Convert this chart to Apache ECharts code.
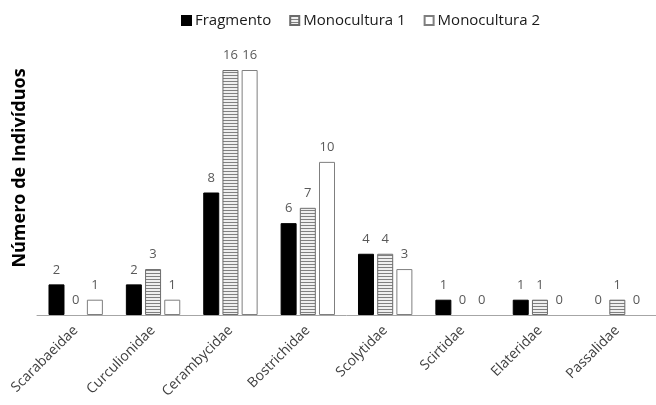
<!DOCTYPE html>
<html>
<head>
<meta charset="utf-8">
<script src="https://cdn.jsdelivr.net/npm/echarts@6/dist/echarts.min.js"></script>
<style>
  html, body { margin: 0; padding: 0; background: #fff; }
  #chart { width: 656px; height: 405px; }
</style>
</head>
<body>
<div id="chart"></div>
<script>
// Beetle families and individual counts per habitat
const families = ['Scarabaeidae', 'Curculionidae', 'Cerambycidae', 'Bostrichidae', 'Scolytidae', 'Scirtidae', 'Elateridae', 'Passalidae'];
const fragmento = [2, 2, 8, 6, 4, 1, 1, 0];
const monocultura1 = [0, 3, 16, 7, 4, 0, 1, 1];
const monocultura2 = [1, 1, 16, 10, 3, 0, 0, 0];
const seriesNames = ['Fragmento', 'Monocultura 1', 'Monocultura 2'];

// Horizontal-stripe fill for the second series
function stripes() {
  const c = document.createElement('canvas');
  c.width = 4; c.height = 3;
  const g = c.getContext('2d');
  g.fillStyle = '#efefef'; g.fillRect(0, 0, 4, 3);
  g.fillStyle = '#808080'; g.fillRect(0, 0, 4, 1);
  return c;
}

// Zero counts keep their label but draw no outline
function withoutZeroOutline(values) {
  return values.map(v => v === 0 ? { value: v, itemStyle: { borderWidth: 0 } } : v);
}

const font = '"Open Sans", "Liberation Sans", sans-serif';
const labelStyle = {
  show: true, position: 'top', distance: 8,
  color: '#595959', fontSize: 13, fontFamily: font
};

const chart = echarts.init(document.getElementById('chart'), null, { renderer: 'canvas' });
chart.setOption({
  animation: false,
  backgroundColor: '#fff',
  legend: {
    top: 8, left: 176,
    icon: 'rect',
    itemWidth: 9, itemHeight: 9, itemGap: 18,
    textStyle: { fontFamily: font, fontSize: 15, color: '#1a1a1a', padding: [0, 0, 0, -1] },
    data: seriesNames
  },
  grid: { left: 37, right: 0, top: 70, bottom: 90, containLabel: false },
  xAxis: {
    type: 'category', data: families,
    axisLine: { lineStyle: { color: '#a6a6a6', width: 1 } },
    axisTick: { show: false },
    axisLabel: { rotate: 45, interval: 0, margin: 13, color: '#404040', fontSize: 14, fontFamily: font }
  },
  yAxis: {
    type: 'value', min: 0, max: 16,
    axisLine: { show: false }, axisTick: { show: false },
    axisLabel: { show: false }, splitLine: { show: false }
  },
  graphic: [{
    type: 'text', x: 20, y: 168,
    rotation: Math.PI / 2,
    style: {
      text: 'Número de Indivíduos',
      font: 'bold 18px ' + font,
      fill: '#000',
      align: 'center', verticalAlign: 'middle'
    }
  }],
  series: [
    {
      name: seriesNames[0], type: 'bar', data: withoutZeroOutline(fragmento),
      barWidth: 16, barGap: '20%',
      itemStyle: { color: '#000', borderColor: '#000', borderWidth: 1 },
      label: labelStyle
    },
    {
      name: seriesNames[1], type: 'bar', data: withoutZeroOutline(monocultura1),
      barWidth: 16, barGap: '20%',
      itemStyle: { color: { image: stripes(), repeat: 'repeat' }, borderColor: '#6b6b6b', borderWidth: 1 },
      label: labelStyle
    },
    {
      name: seriesNames[2], type: 'bar', data: withoutZeroOutline(monocultura2),
      barWidth: 16, barGap: '20%',
      itemStyle: { color: '#fff', borderColor: '#7f7f7f', borderWidth: 1 },
      label: labelStyle
    }
  ]
});
</script>
</body>
</html>
